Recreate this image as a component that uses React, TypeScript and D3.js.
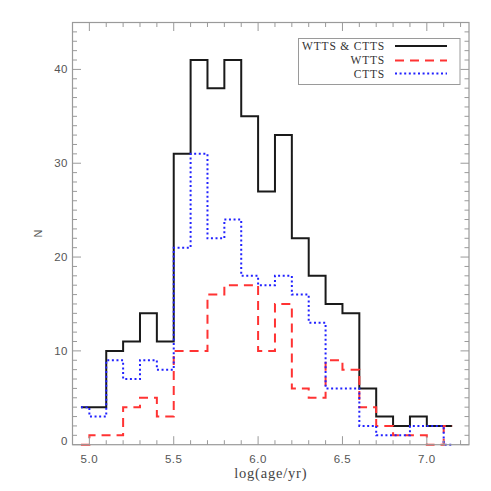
import React from "react";
import * as d3 from "d3";

const binCenters = [4.95, 5.05, 5.15, 5.25, 5.35, 5.45, 5.55, 5.65, 5.75, 5.85, 5.95, 6.05, 6.15, 6.25, 6.35, 6.45, 6.55, 6.65, 6.75, 6.85, 6.95, 7.05, 7.15];
const allCounts = [4, 4, 10, 11, 14, 11, 31, 41, 38, 41, 35, 27, 33, 22, 18, 15, 14, 6, 3, 2, 3, 2, 2];
const wttsCounts = [0, 1, 1, 4, 5, 3, 10, 10, 16, 17, 17, 10, 15, 6, 5, 9, 8, 4, 2, 1, 1, 0, 2];
const cttsCounts = [4, 3, 9, 7, 9, 8, 21, 31, 22, 24, 18, 17, 18, 16, 13, 6, 6, 2, 1, 1, 2, 2, 0];

const xMajorTicks = [5.0, 5.5, 6.0, 6.5, 7.0];
const xTickLabels = ["5.0", "5.5", "6.0", "6.5", "7.0"];
const xMinorTicks = [5.1, 5.2, 5.3, 5.4, 5.6, 5.7, 5.8, 5.9, 6.1, 6.2, 6.3, 6.4, 6.6, 6.7, 6.8, 6.9, 7.1, 7.2];
const yMajorTicks = [0, 10, 20, 30, 40];
const yMinorTicks = [1, 2, 3, 4, 5, 6, 7, 8, 9, 11, 12, 13, 14, 15, 16, 17, 18, 19, 21, 22, 23, 24, 25, 26, 27, 28, 29, 31, 32, 33, 34, 35, 36, 37, 38, 39, 41, 42, 43, 44];

const seriesNames = ["WTTS & CTTS", "WTTS", "CTTS"];

export default function App() {
  const left = 72.5, right = 469, top = 22.5, bottom = 444.7;
  const x = d3.scaleLinear().domain([4.9, 7.25]).range([left, right]);
  const y = d3.scaleLinear().domain([0, 45]).range([bottom, top]);
  const line = (vals: number[]) =>
    d3.line<number>().x((_, i) => x(binCenters[i])).y((v) => y(v)).curve(d3.curveStep)(vals) || "";

  const axisColor = "#9a9a9a";
  const series = [
    { name: seriesNames[0], vals: allCounts, color: "#1a1a1a", dash: "none", w: 2 },
    { name: seriesNames[1], vals: wttsCounts, color: "#ff3333", dash: "9,6", w: 2 },
    { name: seriesNames[2], vals: cttsCounts, color: "#2222ff", dash: "2,2.6", w: 2 },
  ];
  const legX = 298.5, legY = 38.5, legW = 161.5, legH = 46;
  const rowBase = [50, 64, 77.7];
  const rowLine = [46, 60.5, 73.5];

  return (
    <svg width={491} height={491} style={{ position: "absolute", left: 0, top: 0, background: "#fff" }}>
      <rect x={0} y={0} width={491} height={491} fill="#fff" />
      {series.map((s) => (
        <path key={s.name} d={line(s.vals)} fill="none" stroke={s.color} strokeWidth={s.w} strokeDasharray={s.dash} />
      ))}
      <rect x={left} y={top} width={right - left} height={bottom - top} fill="none" stroke={axisColor} strokeWidth={1.2} />
      {xMajorTicks.map((t) => (
        <g key={"xM" + t}>
          <line x1={x(t)} x2={x(t)} y1={bottom} y2={bottom - 8.5} stroke={axisColor} strokeWidth={1} />
          <line x1={x(t)} x2={x(t)} y1={top} y2={top + 8.5} stroke={axisColor} strokeWidth={1} />
        </g>
      ))}
      {xMinorTicks.map((t) => (
        <g key={"xm" + t}>
          <line x1={x(t)} x2={x(t)} y1={bottom} y2={bottom - 4.5} stroke={axisColor} strokeWidth={1} />
          <line x1={x(t)} x2={x(t)} y1={top} y2={top + 4.5} stroke={axisColor} strokeWidth={1} />
        </g>
      ))}
      {yMajorTicks.map((t) => (
        <g key={"yM" + t}>
          <line x1={left} x2={left + 8.5} y1={y(t)} y2={y(t)} stroke={axisColor} strokeWidth={1} />
          <line x1={right} x2={right - 8.5} y1={y(t)} y2={y(t)} stroke={axisColor} strokeWidth={1} />
        </g>
      ))}
      {yMinorTicks.map((t) => (
        <g key={"ym" + t}>
          <line x1={left} x2={left + 4.5} y1={y(t)} y2={y(t)} stroke={axisColor} strokeWidth={1} />
          <line x1={right} x2={right - 4.5} y1={y(t)} y2={y(t)} stroke={axisColor} strokeWidth={1} />
        </g>
      ))}
      {xMajorTicks.map((t, i) => (
        <text key={"xl" + t} x={x(t)} y={462.5} textAnchor="middle" fontFamily="Liberation Sans, Arial, sans-serif" fontSize={11.5} fill="#555" letterSpacing={0.5}>
          {xTickLabels[i]}
        </text>
      ))}
      {yMajorTicks.map((t) => (
        <text key={"yl" + t} x={68} y={Math.min(y(t), 440.5)} dy="0.35em" textAnchor="end" fontFamily="Liberation Sans, Arial, sans-serif" fontSize={11.5} fill="#555" letterSpacing={0.5}>
          {String(t)}
        </text>
      ))}
      <text x={(left + right) / 2} y={478} textAnchor="middle" fontFamily="Liberation Serif, Times New Roman, serif" fontSize={14.5} fill="#444" letterSpacing={0.8}>
        log(age/yr)
      </text>
      <text transform={`translate(38,${(top + bottom) / 2}) rotate(-90)`} textAnchor="middle" dy="0.35em" fontFamily="Liberation Sans, Arial, sans-serif" fontSize={11} fill="#555">
        N
      </text>
      <rect x={legX} y={legY} width={legW} height={legH} fill="#fff" stroke={axisColor} strokeWidth={1} />
      {series.map((s, i) => (
        <g key={"leg" + s.name}>
          <text x={385} y={rowBase[i]} textAnchor="end" fontFamily="Liberation Serif, Times New Roman, serif" fontSize={11.5} fill="#333" letterSpacing={0.8}>
            {s.name}
          </text>
          <line x1={395} x2={447} y1={rowLine[i]} y2={rowLine[i]} stroke={s.color} strokeWidth={s.w} strokeDasharray={s.dash} />
        </g>
      ))}
    </svg>
  );
}
